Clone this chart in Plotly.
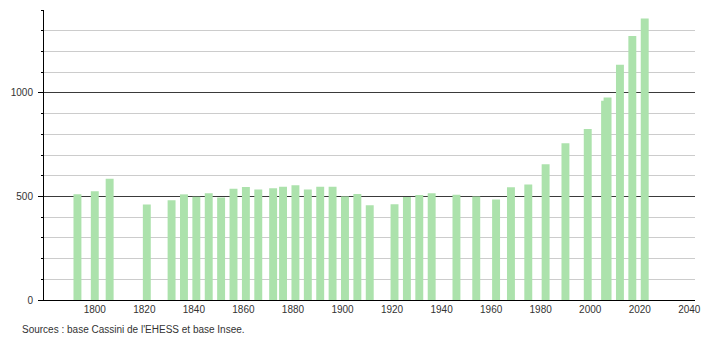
import plotly.graph_objects as go

years = [1793, 1800, 1806, 1821, 1831, 1836, 1841, 1846, 1851, 1856, 1861, 1866,
         1872, 1876, 1881, 1886, 1891, 1896, 1901, 1906, 1911, 1921, 1926, 1931,
         1936, 1946, 1954, 1962, 1968, 1975, 1982, 1990, 1999, 2006, 2007, 2012,
         2017, 2022]
population = [510, 525, 585, 461, 481, 510, 498, 515, 495, 537, 546, 534,
              539, 547, 554, 534, 547, 547, 500, 512, 457, 462, 497, 507,
              515, 508, 500, 485, 544, 558, 655, 757, 825, 962, 978, 1136,
              1275, 1359]
x_ticks = list(range(1800, 2041, 20))
y_labels = [0, 500, 1000]
source_text = "Sources : base Cassini de l'EHESS et base Insee."

font = "Liberation Sans, Arial, sans-serif"

fig = go.Figure()
fig.add_trace(go.Bar(
    x=years, y=population, width=3.2,
    marker=dict(color="rgb(172,226,172)", line=dict(width=0)),
    hoverinfo="x+y",
))

fig.update_layout(
    width=710, height=340,
    margin=dict(l=44, r=9, t=10, b=40),
    paper_bgcolor="white", plot_bgcolor="white",
    barmode="overlay",
    showlegend=False,
    font=dict(family=font, size=10, color="#333"),
    xaxis=dict(
        range=[1779.5, 2042.3],
        tickvals=x_ticks,
        ticktext=[str(v) for v in x_ticks],
        ticks="", showgrid=False, zeroline=False,
        showline=True, linecolor="black", linewidth=1,
        tickfont=dict(family=font, size=10, color="#333"),
    ),
    yaxis=dict(
        range=[0, 1400],
        tickvals=y_labels,
        ticktext=[str(v) for v in y_labels],
        ticks="outside", ticklen=5, tickcolor="black", tickwidth=1,
        showgrid=True, gridcolor="#3a3a3a", gridwidth=1,
        zeroline=False,
        showline=True, linecolor="black", linewidth=1,
        ticklabelstandoff=3,
        minor=dict(dtick=100, tick0=0, ticks="outside", ticklen=2,
                   tickcolor="black", showgrid=True, gridcolor="#cccccc",
                   gridwidth=1),
        tickfont=dict(family=font, size=10, color="#333"),
    ),
    annotations=[dict(
        text=source_text, xref="paper", yref="paper",
        x=(20 - 44) / 657, y=(300 - 329) / 290,
        xanchor="left", yanchor="middle", showarrow=False,
        font=dict(family=font, size=10, color="#333"),
    )],
)

fig.write_html("out.html")
